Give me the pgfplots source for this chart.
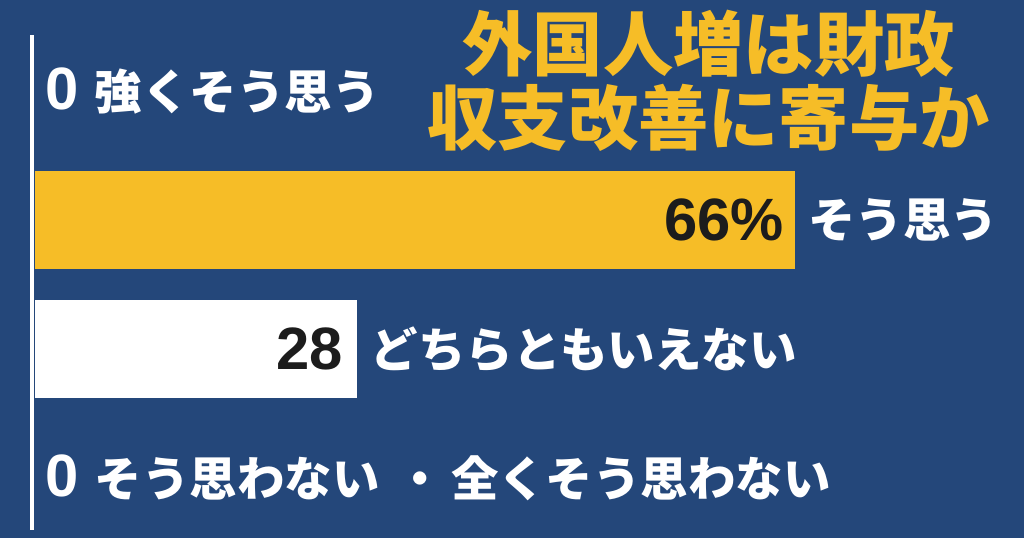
\documentclass[border=0pt]{standalone}
\usepackage{pgfplots}
\pgfplotsset{compat=1.18}
\usepackage{fontspec}
\setmainfont{Liberation Sans}
\newfontfamily\jp{Noto Sans CJK JP}

\definecolor{bg}{HTML}{24477A}
\definecolor{gold}{HTML}{F6BD27}
\definecolor{ink}{HTML}{1C1C1C}

% 1px of the reference = 0.02cm
\newcommand\lab{\jp\bfseries\fontsize{27}{27}\selectfont}
\newcommand\num{\bfseries\fontsize{34}{34}\selectfont}
\newcommand\ttl{\jp\bfseries\fontsize{40}{40}\selectfont}

\begin{document}
\begin{tikzpicture}
\begin{axis}[
    width=20.48cm, height=10.76cm, scale only axis,
    xmin=-3.04, xmax=85.89,
    ymin=-0.705, ymax=3.465, y dir=reverse,
    axis line style={draw=none},
    xtick=\empty, ytick=\empty,
    axis background/.style={fill=bg},
    xbar, bar width=0.76, bar shift=0pt,
    clip=false,
]
\addplot[fill=gold, draw=none] coordinates {(66,1)};
\addplot[fill=white, draw=none] coordinates {(28,2)};

% axis line on the left
\draw[white, line width=0.08cm] (axis cs:-0.26,-0.434) -- (axis cs:-0.26,3.403);

% values and labels
\node[anchor=east, inner sep=0pt, text=ink, font=\num] at ([xshift=-0.22cm]axis cs:66,1) {66\%};
\node[anchor=west, inner sep=0pt, text=white, font=\lab] at ([xshift=0.26cm]axis cs:66,1) {そう思う};
\node[anchor=east, inner sep=0pt, text=ink, font=\num] at ([xshift=-0.28cm]axis cs:28,2) {28};
\node[anchor=west, inner sep=0pt, text=white, font=\lab] at ([xshift=0.26cm]axis cs:28,2) {どちらともいえない};

\node[anchor=west, inner sep=0pt, text=white] at (axis cs:0.9,0)
    {{\num 0}\hspace{0.32cm}{\lab 強くそう思う}};
\node[anchor=west, inner sep=0pt, text=white] at (axis cs:0.9,3)
    {{\num 0}\hspace{0.32cm}{\lab そう思わない\hspace{0.34cm}・\hspace{0.14cm}全くそう思わない}};

% title
\node[text=gold, font=\ttl, inner sep=0pt] at (axis cs:58.5,-0.37) {外国人増は財政};
\node[text=gold, font=\ttl, inner sep=0pt] at (axis cs:58.5,0.21) {収支改善に寄与か};
\end{axis}
\end{tikzpicture}
\end{document}
